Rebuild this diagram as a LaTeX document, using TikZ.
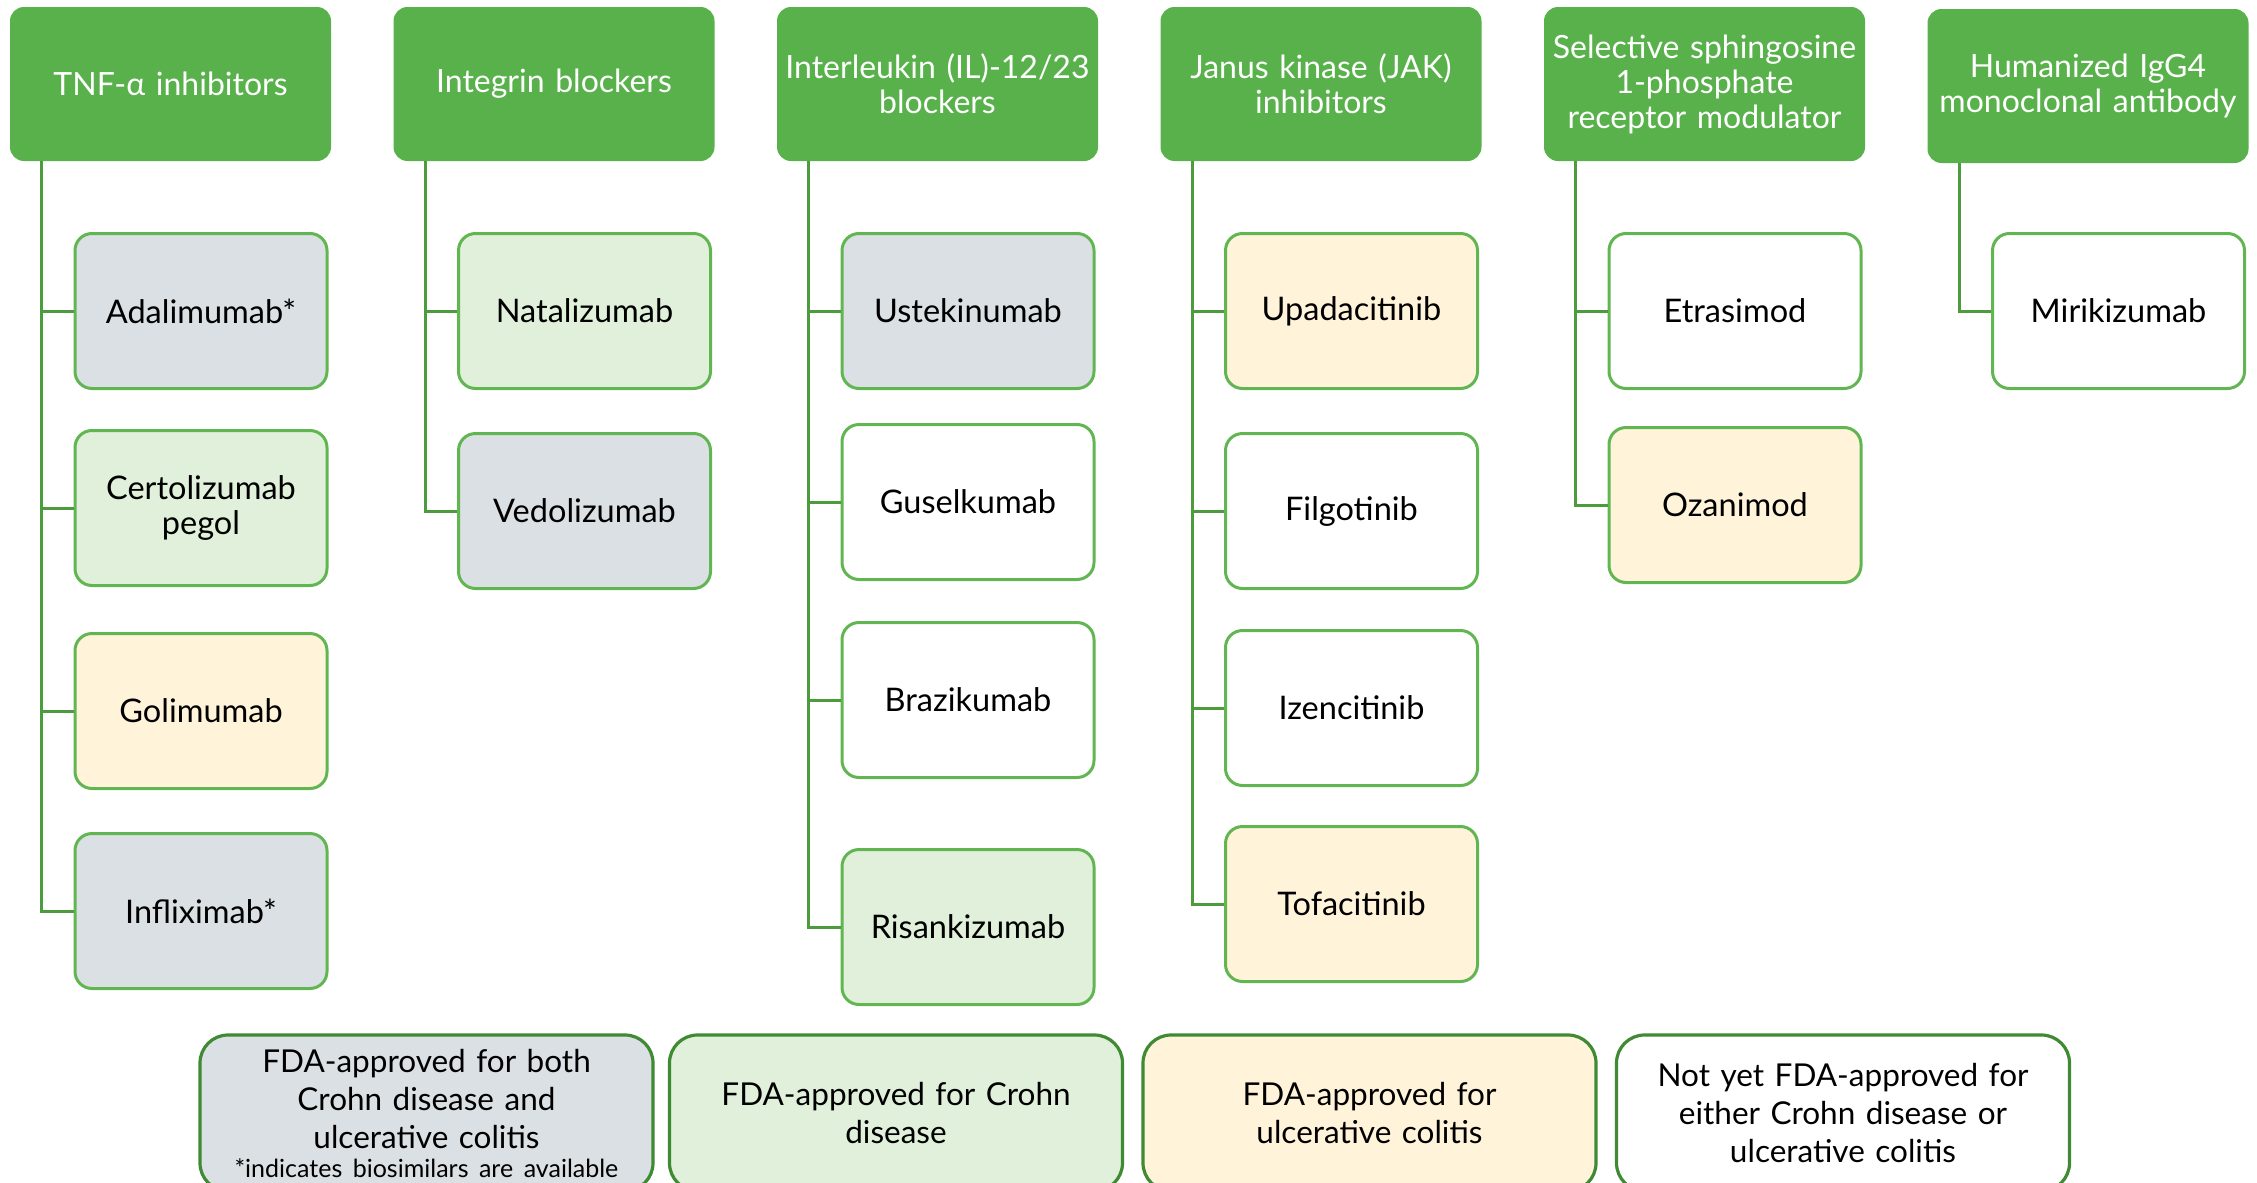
\documentclass[tikz,border=0pt]{standalone}
\usepackage{fontspec}
\setmainfont{Lato}
\definecolor{hdrgreen}{RGB}{88,177,74}
\definecolor{boxline}{RGB}{98,182,82}
\definecolor{trunkline}{RGB}{76,156,62}
\definecolor{legline}{RGB}{64,138,52}
\definecolor{bothfill}{RGB}{218,224,228}
\definecolor{cdfill}{RGB}{224,240,218}
\definecolor{ucfill}{RGB}{255,243,217}
\tikzset{
  header/.style={rectangle, rounded corners=14pt, fill=hdrgreen, draw=none,
    minimum width=321pt, minimum height=154pt, text width=310pt, align=center,
    text=white, font=\fontsize{32}{35}\selectfont, inner sep=0pt},
  drug/.style={rectangle, rounded corners=17pt, draw=boxline, line width=3pt,
    minimum width=252pt, minimum height=155pt, text width=240pt, align=center,
    font=\fontsize{32.5}{35}\selectfont, inner sep=0pt},
  both/.style={drug, fill=bothfill},
  cd/.style={drug, fill=cdfill},
  uc/.style={drug, fill=ucfill},
  none/.style={drug, fill=white},
  legend/.style={rectangle, rounded corners=28pt, draw=legline, line width=3.2pt,
    minimum width=453pt, minimum height=156pt, text width=440pt, align=center,
    font=\fontsize{31.5}{38}\selectfont, inner sep=0pt},
  conn/.style={draw=trunkline, line width=3pt},
}
\begin{document}
\begin{tikzpicture}[x=1pt, y=-1pt]
\useasboundingbox (0,0) rectangle (2257,1183);

% class headers
\node[header] (h1) at (170.5,84) {TNF-α inhibitors};
\node[header] (h2) at (554,84) {Integrin blockers};
\node[header] (h3) at (937.5,84) {Interleukin (IL)-12/23\\blockers};
\node[header] (h4) at (1321,84) {Janus kinase (JAK)\\inhibitors};
\node[header] (h5) at (1704.5,84) {Selective sphingosine\\1-phosphate\\receptor modulator};
\node[header] (h6) at (2088,86) {Humanized IgG4\\monoclonal antibody};

% drugs
\node[both] (a1) at (201,311) {Adalimumab*};
\node[cd]   (a2) at (201,508) {Certolizumab\\pegol};
\node[uc]   (a3) at (201,711) {Golimumab};
\node[both] (a4) at (201,911) {Infliximab*};

\node[cd]   (b1) at (584.5,311) {Natalizumab};
\node[both] (b2) at (584.5,511) {Vedolizumab};

\node[both] (c1) at (968,311) {Ustekinumab};
\node[none] (c2) at (968,502) {Guselkumab};
\node[none] (c3) at (968,700) {Brazikumab};
\node[cd]   (c4) at (968,927) {Risankizumab};

\node[uc]   (d1) at (1351.5,311) {Upadacitinib};
\node[none] (d2) at (1351.5,511) {Filgotinib};
\node[none] (d3) at (1351.5,708) {Izencitinib};
\node[uc]   (d4) at (1351.5,904) {Tofacitinib};

\node[none] (e1) at (1735,311) {Etrasimod};
\node[uc]   (e2) at (1735,505) {Ozanimod};

\node[none] (f1) at (2118.5,311) {Mirikizumab};

% connectors from each class to its drugs
\foreach \h/\list in {h1/{a1,a2,a3,a4}, h2/{b1,b2}, h3/{c1,c2,c3,c4},
                      h4/{d1,d2,d3,d4}, h5/{e1,e2}, h6/{f1}} {
  \foreach \c in \list {
    \draw[conn] ([xshift=32pt]\h.south west) |- (\c.west);
  }
}

% key
\node[legend, fill=bothfill] (k1) at (426.5,1113) {FDA-approved for both\\Crohn disease and\\ulcerative colitis\\[-9pt]{\fontsize{25}{26}\selectfont *indicates biosimilars are available}};
\node[legend, fill=cdfill] (k2) at (896,1113) {FDA-approved for Crohn\\disease};
\node[legend, fill=ucfill] (k3) at (1369.5,1113) {FDA-approved for\\ulcerative colitis};
\node[legend, fill=white] (k4) at (1843,1113) {Not yet FDA-approved for\\either Crohn disease or\\ulcerative colitis};
\end{tikzpicture}
\end{document}
